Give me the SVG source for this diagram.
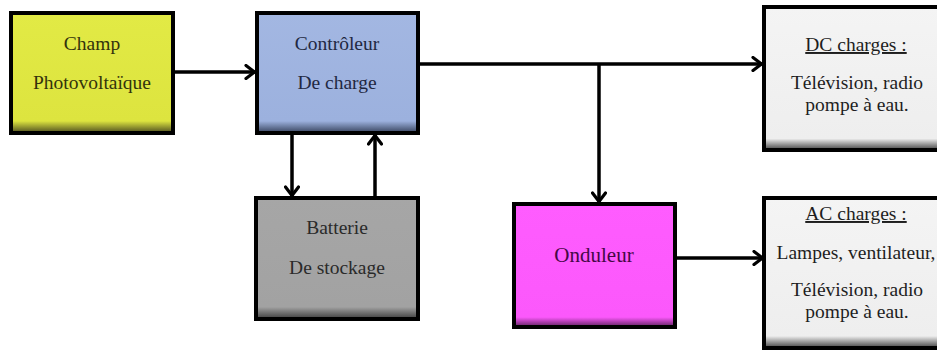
<svg xmlns="http://www.w3.org/2000/svg" width="937" height="351" viewBox="0 0 937 351">
<style>
  .box { stroke: #000; stroke-width: 4; }
  .t { font-family: 'Liberation Serif', 'Tinos', 'Times New Roman', 'DejaVu Serif', serif; font-size: 19.5px; text-anchor: middle; }
  .line { fill: none; stroke: #000; stroke-width: 3.5; }
</style>
<defs>
  <marker id="arr" viewBox="0 0 12 16" refX="11" refY="8" markerWidth="12" markerHeight="16" markerUnits="userSpaceOnUse" orient="auto">
    <path d="M2,1.5 L10.5,8 L2,14.5" fill="none" stroke="#000" stroke-width="3.2" stroke-linecap="round" stroke-linejoin="round"/>
  </marker>
  <linearGradient id="gY" x1="0" y1="0" x2="0" y2="1"><stop offset="0" stop-color="#e2ea45"/><stop offset="0.9" stop-color="#dde43f"/><stop offset="1" stop-color="#4a4a20"/></linearGradient>
  <linearGradient id="gB" x1="0" y1="0" x2="0" y2="1"><stop offset="0" stop-color="#a3b7e2"/><stop offset="0.9" stop-color="#9cb1de"/><stop offset="1" stop-color="#35405a"/></linearGradient>
  <linearGradient id="gG" x1="0" y1="0" x2="0" y2="1"><stop offset="0" stop-color="#a6a6a6"/><stop offset="0.9" stop-color="#a2a2a2"/><stop offset="1" stop-color="#3c3c3c"/></linearGradient>
  <linearGradient id="gM" x1="0" y1="0" x2="0" y2="1"><stop offset="0" stop-color="#ff5cff"/><stop offset="0.92" stop-color="#fb58fb"/><stop offset="1" stop-color="#5a205a"/></linearGradient>
  <linearGradient id="gW" x1="0" y1="0" x2="0" y2="1"><stop offset="0" stop-color="#f4f4f4"/><stop offset="0.92" stop-color="#eeeeee"/><stop offset="1" stop-color="#404040"/></linearGradient>
</defs>
<rect width="937" height="351" fill="#fff"/>
<g id="connectors">
  <line class="line" x1="173" y1="72" x2="255" y2="72" marker-end="url(#arr)"/>
  <line class="line" x1="292" y1="134" x2="292" y2="196" marker-end="url(#arr)"/>
  <line class="line" x1="375" y1="197" x2="375" y2="135" marker-end="url(#arr)"/>
  <line class="line" x1="418" y1="64" x2="762" y2="64" marker-end="url(#arr)"/>
  <line class="line" x1="599" y1="64" x2="599" y2="202" marker-end="url(#arr)"/>
  <line class="line" x1="675" y1="258" x2="763" y2="258" marker-end="url(#arr)"/>
</g>
<g id="champ">
  <rect class="box" x="11" y="13" width="162" height="120" fill="url(#gY)"/>
  <text class="t" x="92" y="50" fill="#33330c">Champ</text>
  <text class="t" x="92" y="89" fill="#33330c">Photovoltaïque</text>
</g>
<g id="controleur">
  <rect class="box" x="257" y="13" width="161" height="120" fill="url(#gB)"/>
  <text class="t" x="337" y="50" fill="#1f2842">Contrôleur</text>
  <text class="t" x="337" y="89" fill="#1f2842">De charge</text>
</g>
<g id="batterie">
  <rect class="box" x="256" y="198" width="162" height="121" fill="url(#gG)"/>
  <text class="t" x="337" y="234" fill="#2a2a2a">Batterie</text>
  <text class="t" x="337" y="274" fill="#2a2a2a">De stockage</text>
</g>
<g id="onduleur">
  <rect class="box" x="514" y="204" width="161" height="123" fill="url(#gM)"/>
  <text class="t" x="594" y="262" fill="#450845" style="font-size:21px">Onduleur</text>
</g>
<g id="dc">
  <rect class="box" x="764" y="7" width="180" height="143" fill="url(#gW)"/>
  <text class="t" x="856" y="51" fill="#1e1e1e" text-decoration="underline">DC charges :</text>
  <text class="t" x="857" y="89" fill="#1e1e1e">Télévision, radio</text>
  <text class="t" x="857" y="111" fill="#1e1e1e">pompe à eau.</text>
</g>
<g id="ac">
  <rect class="box" x="764" y="198" width="180" height="150" fill="url(#gW)"/>
  <text class="t" x="856" y="220" fill="#1e1e1e" text-decoration="underline">AC charges :</text>
  <text class="t" x="856" y="259" fill="#1e1e1e">Lampes, ventilateur,</text>
  <text class="t" x="857" y="296" fill="#1e1e1e">Télévision, radio</text>
  <text class="t" x="857" y="318" fill="#1e1e1e">pompe à eau.</text>
</g>
</svg>
